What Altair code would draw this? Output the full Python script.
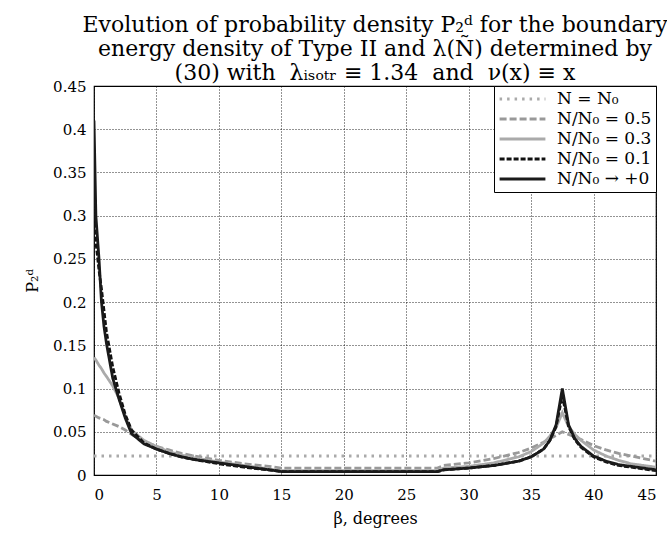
import altair as alt
import pandas as pd

# ---- data ----
beta = [0, 0.15, 0.4, 0.6, 0.8, 1, 1.5, 2, 2.5, 3, 4, 5, 6, 7, 8, 10, 12, 14, 15,
        20, 25, 27.5, 28, 30, 32, 34, 35, 36, 36.5, 37, 37.5, 38, 38.5, 39, 40,
        41, 42, 43, 44, 45]

p_n0_beta = [0, 45]
p_n0 = [0.022, 0.022]

p_05 = [0.069, 0.068, 0.066, 0.065, 0.064, 0.062, 0.059, 0.056, 0.052, 0.047,
        0.039, 0.033, 0.029, 0.025, 0.022, 0.017, 0.013, 0.010, 0.008,
        0.008, 0.008, 0.008, 0.011, 0.014, 0.019, 0.026, 0.031, 0.038, 0.042,
        0.046, 0.050, 0.047, 0.044, 0.041, 0.034, 0.029, 0.025, 0.022, 0.019, 0.016]

p_03 = [0.136, 0.133, 0.127, 0.123, 0.118, 0.114, 0.103, 0.089, 0.068, 0.052,
        0.040, 0.033, 0.027, 0.023, 0.020, 0.015, 0.011, 0.007, 0.005,
        0.005, 0.005, 0.005, 0.008, 0.010, 0.014, 0.021, 0.027, 0.037, 0.045,
        0.055, 0.072, 0.056, 0.047, 0.040, 0.029, 0.022, 0.017, 0.013, 0.011, 0.009]

p_01 = [0.300, 0.270, 0.237, 0.215, 0.190, 0.165, 0.125, 0.095, 0.070, 0.052,
        0.037, 0.030, 0.025, 0.021, 0.018, 0.013, 0.009, 0.006, 0.004,
        0.004, 0.004, 0.004, 0.006, 0.008, 0.011, 0.016, 0.021, 0.030, 0.040,
        0.056, 0.092, 0.056, 0.041, 0.032, 0.021, 0.015, 0.011, 0.009, 0.007, 0.005]

p_0 = [0.410, 0.300, 0.250, 0.200, 0.172, 0.152, 0.112, 0.088, 0.066, 0.048,
       0.036, 0.030, 0.025, 0.021, 0.018, 0.014, 0.010, 0.006, 0.004,
       0.004, 0.004, 0.004, 0.006, 0.008, 0.011, 0.016, 0.021, 0.030, 0.040,
       0.058, 0.100, 0.058, 0.042, 0.033, 0.022, 0.016, 0.012, 0.010, 0.008, 0.006]

labels = ["N = N₀", "N/N₀ = 0.5", "N/N₀ = 0.3", "N/N₀ = 0.1", "N/N₀ → +0"]
colors = ["#aaaaaa", "#999999", "#aaaaaa", "#111111", "#1a1a1a"]
dashes = [[2.5, 5], [7, 3], [1, 0], [5, 2], [1, 0]]

x_ticks = [0, 5, 10, 15, 20, 25, 30, 35, 40, 45]
y_ticks = [0, 0.05, 0.1, 0.15, 0.2, 0.25, 0.3, 0.35, 0.4, 0.45]

rows = []
for b, v in zip(p_n0_beta, p_n0):
    rows.append({"beta": b, "p": v, "series": labels[0]})
for lab, vals in zip(labels[1:], [p_05, p_03, p_01, p_0]):
    for b, v in zip(beta, vals):
        rows.append({"beta": b, "p": v, "series": lab})
df = pd.DataFrame(rows)

FONT = "DejaVu Serif"
NB = "\u00a0"

chart = alt.Chart(df).mark_line(strokeWidth=2.8, clip=True, strokeJoin="miter").encode(
    x=alt.X("beta:Q", scale=alt.Scale(domain=[0, 45], nice=False),
            axis=alt.Axis(values=x_ticks, title="β, degrees", format="~g")),
    y=alt.Y("p:Q", scale=alt.Scale(domain=[0, 0.45], nice=False),
            axis=alt.Axis(values=y_ticks, title="P₂ᵈ", format="~g")),
    color=alt.Color("series:N", scale=alt.Scale(domain=labels, range=colors),
                    title=None,
                    legend=alt.Legend(orient="top-right", offset=0,
                                      symbolType="stroke", symbolSize=2100,
                                      symbolStrokeWidth=3, clipHeight=18)),
    strokeDash=alt.StrokeDash("series:N", scale=alt.Scale(domain=labels, range=dashes),
                              title=None),
    order=alt.Order("beta:Q"),
).properties(
    width=562, height=389,
    autosize=alt.AutoSizeParams(type="none"),
    padding={"left": 94, "top": 86, "right": 11, "bottom": 64},
    title=alt.TitleParams(
        text=["Evolution of probability density P₂ᵈ for the boundary",
              "energy density of Type II and λ(Ñ) determined by",
              f"(30) with{NB}{NB}λᵢₛₒₜᵣ ≡ 1.34{NB}{NB}and{NB}{NB}ν(x) ≡ x"],
        font=FONT, fontSize=22, fontWeight="normal", color="black",
        lineHeight=24, anchor="middle", offset=0, dy=6),
).configure_view(
    stroke="black", strokeWidth=1.2
).configure_axis(
    labelFont=FONT, labelFontSize=15, labelColor="black",
    titleFont=FONT, titleFontSize=16, titleFontWeight="normal", titleColor="black",
    grid=True, gridColor="black", gridDash=[1, 2], gridWidth=1, gridOpacity=0.85,
    domain=False, ticks=False, labelPadding=8,
).configure_axisX(
    titlePadding=8, labelPadding=12
).configure_axisY(
    titlePadding=12
).configure_legend(
    labelFont=FONT, labelFontSize=17, labelColor="black",
    fillColor="white", strokeColor="black", padding=4, rowPadding=2,
    labelOffset=10,
)

chart.save("out.html", embed_options={"renderer": "svg", "actions": False})
